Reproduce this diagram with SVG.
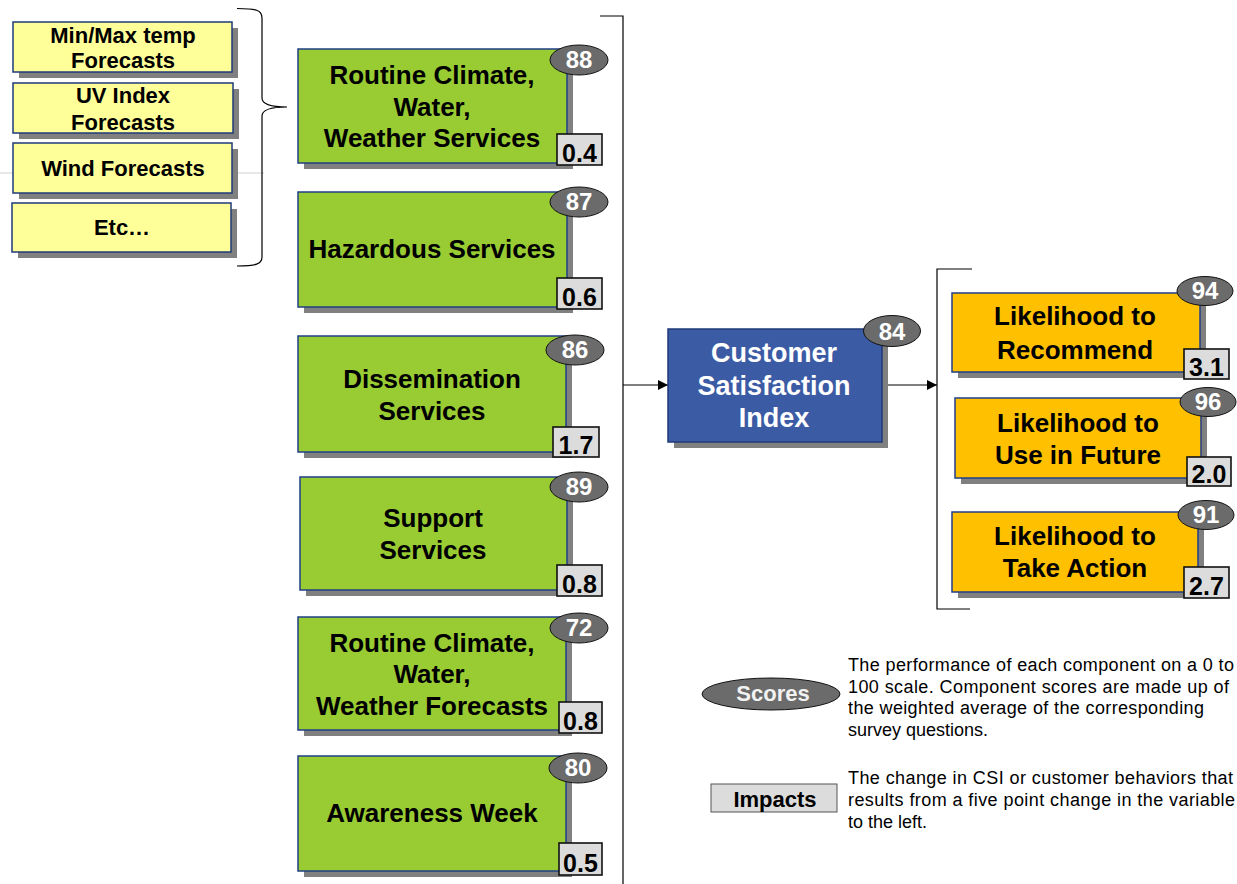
<svg xmlns="http://www.w3.org/2000/svg" width="1237" height="884" viewBox="0 0 1237 884">
<style>
text{font-family:"Liberation Sans",Arial,Helvetica,sans-serif;}
.shadow{fill:#808080;}
.yel{fill:#ffff99;stroke:#1f3a7a;stroke-width:1.5;}
.grn{fill:#99cc33;stroke:#203f86;stroke-width:1.5;}
.org{fill:#ffc000;stroke:#203f86;stroke-width:1.5;}
.blu{fill:#3c5ba5;stroke:#1f3a7a;stroke-width:1.5;}
.badge{fill:#6b6b6b;stroke:#111;stroke-width:1;}
.imp{fill:#dcdcdc;stroke:#111;stroke-width:1.6;}
.t22{font-size:22px;font-weight:bold;fill:#000;text-anchor:middle;}
.t26{font-size:26px;font-weight:bold;fill:#000;text-anchor:middle;}
.tw{font-size:27px;font-weight:bold;fill:#fff;text-anchor:middle;}
.bn{font-size:24px;font-weight:bold;fill:#fff;text-anchor:middle;}
.in{font-size:25px;font-weight:bold;fill:#000;text-anchor:middle;}
.desc{font-size:18px;fill:#000;}
.ln{fill:none;stroke:#000;stroke-width:1.2;}
</style>
<defs>
<marker id="arr" viewBox="0 0 10 10" refX="10" refY="5" markerWidth="10" markerHeight="10" markerUnits="userSpaceOnUse" orient="auto">
<path d="M0,0 L10,5 L0,10 Z" fill="#000"/>
</marker>
</defs>
<rect width="1237" height="884" fill="#fff"/>
<line x1="0" y1="173" x2="264" y2="173" stroke="#b0b0b0" stroke-width="0.6"/>

<g id="connectors">
<path class="ln" d="M237,8.5 C256,8.5 262,10 262,18 L262,98 C262,104 270,107 287,107 C270,107 262,110 262,116 L262,257 C262,264 256,266 237,266"/>
<path class="ln" d="M600,16 L623,16 L623,884"/>
<line class="ln" x1="623" y1="385" x2="668" y2="385" marker-end="url(#arr)"/>
<line class="ln" x1="887" y1="385" x2="937" y2="385" marker-end="url(#arr)"/>
<path class="ln" d="M972,269 L937,269 L937,609 L970,609"/>
</g>

<g id="minmax">
<rect class="shadow" x="19" y="28" width="219" height="50"/>
<rect class="yel" x="13" y="22" width="219" height="50"/>
<text class="t22" x="123" y="43">Min/Max temp</text>
<text class="t22" x="123" y="68">Forecasts</text>
</g>
<g id="uvindex">
<rect class="shadow" x="19" y="89" width="220" height="50"/>
<rect class="yel" x="13" y="83" width="220" height="50"/>
<text class="t22" x="123" y="103">UV Index</text>
<text class="t22" x="123" y="130">Forecasts</text>
</g>
<g id="wind">
<rect class="shadow" x="19" y="149" width="219" height="50"/>
<rect class="yel" x="13" y="143" width="219" height="50"/>
<text class="t22" x="123" y="176">Wind Forecasts</text>
</g>
<g id="etc">
<rect class="shadow" x="18" y="209" width="219" height="49"/>
<rect class="yel" x="12" y="203" width="219" height="49"/>
<text class="t22" x="122" y="235">Etc…</text>
</g>

<g id="routine-services">
<rect class="shadow" x="304" y="55" width="269" height="114"/>
<rect class="grn" x="298" y="49" width="269" height="114"/>
<text class="t26" x="432" y="84">Routine Climate,</text>
<text class="t26" x="432" y="116">Water,</text>
<text class="t26" x="432" y="147">Weather Services</text>
<ellipse class="badge" cx="579" cy="60" rx="29" ry="15"/>
<text class="bn" x="579" y="68">88</text>
<rect class="imp" x="557" y="134" width="45" height="31"/>
<text class="in" x="579.5" y="162">0.4</text>
</g>
<g id="hazardous">
<rect class="shadow" x="304" y="198" width="269" height="115"/>
<rect class="grn" x="298" y="192" width="269" height="115"/>
<text class="t26" x="432" y="258">Hazardous Services</text>
<ellipse class="badge" cx="579" cy="202" rx="29" ry="15"/>
<text class="bn" x="579" y="210">87</text>
<rect class="imp" x="557" y="278" width="45" height="31"/>
<text class="in" x="579.5" y="306">0.6</text>
</g>
<g id="dissemination">
<rect class="shadow" x="304" y="342" width="268" height="116"/>
<rect class="grn" x="298" y="336" width="268" height="116"/>
<text class="t26" x="432" y="388">Dissemination</text>
<text class="t26" x="432" y="420">Services</text>
<ellipse class="badge" cx="575" cy="350" rx="29" ry="15"/>
<text class="bn" x="575" y="358">86</text>
<rect class="imp" x="553" y="427" width="46" height="30"/>
<text class="in" x="576" y="454">1.7</text>
</g>
<g id="support">
<rect class="shadow" x="306" y="483" width="267" height="113"/>
<rect class="grn" x="300" y="477" width="267" height="113"/>
<text class="t26" x="433" y="527">Support</text>
<text class="t26" x="433" y="559">Services</text>
<ellipse class="badge" cx="579" cy="487" rx="29" ry="15"/>
<text class="bn" x="579" y="495">89</text>
<rect class="imp" x="557" y="565" width="45" height="31"/>
<text class="in" x="579.5" y="593">0.8</text>
</g>
<g id="routine-forecasts">
<rect class="shadow" x="304" y="623" width="268" height="113"/>
<rect class="grn" x="298" y="617" width="268" height="113"/>
<text class="t26" x="432" y="652">Routine Climate,</text>
<text class="t26" x="432" y="683">Water,</text>
<text class="t26" x="432" y="715">Weather Forecasts</text>
<ellipse class="badge" cx="579" cy="628" rx="29" ry="15"/>
<text class="bn" x="579" y="636">72</text>
<rect class="imp" x="559" y="702" width="43" height="31"/>
<text class="in" x="580.5" y="730">0.8</text>
</g>
<g id="awareness">
<rect class="shadow" x="304" y="762" width="268" height="115"/>
<rect class="grn" x="298" y="756" width="268" height="115"/>
<text class="t26" x="432" y="822">Awareness Week</text>
<ellipse class="badge" cx="578" cy="768" rx="29" ry="15"/>
<text class="bn" x="578" y="776">80</text>
<rect class="imp" x="559" y="843" width="43" height="32"/>
<text class="in" x="580.5" y="872">0.5</text>
</g>

<g id="csi">
<rect class="shadow" x="674" y="335" width="214" height="113"/>
<rect class="blu" x="668" y="329" width="214" height="113"/>
<text class="tw" x="774" y="362">Customer</text>
<text class="tw" x="774" y="395">Satisfaction</text>
<text class="tw" x="774" y="427">Index</text>
<ellipse class="badge" cx="892" cy="331" rx="28.5" ry="15.5"/>
<text class="bn" x="892" y="340">84</text>
</g>

<g id="recommend">
<rect class="shadow" x="958" y="299" width="248" height="79"/>
<rect class="org" x="952" y="293" width="248" height="79"/>
<text class="t26" x="1075" y="325">Likelihood to</text>
<text class="t26" x="1075" y="359">Recommend</text>
<ellipse class="badge" cx="1205" cy="291" rx="28" ry="14.5"/>
<text class="bn" x="1205" y="299">94</text>
<rect class="imp" x="1184" y="349" width="45" height="30"/>
<text class="in" x="1206.5" y="376">3.1</text>
</g>
<g id="future">
<rect class="shadow" x="961" y="404" width="246" height="80"/>
<rect class="org" x="955" y="398" width="246" height="80"/>
<text class="t26" x="1078" y="432">Likelihood to</text>
<text class="t26" x="1078" y="464">Use in Future</text>
<ellipse class="badge" cx="1208" cy="402" rx="28" ry="14.5"/>
<text class="bn" x="1208" y="410">96</text>
<rect class="imp" x="1187" y="457" width="44" height="29"/>
<text class="in" x="1209" y="483">2.0</text>
</g>
<g id="action">
<rect class="shadow" x="958" y="518" width="246" height="80"/>
<rect class="org" x="952" y="512" width="246" height="80"/>
<text class="t26" x="1075" y="545">Likelihood to</text>
<text class="t26" x="1075" y="577">Take Action</text>
<ellipse class="badge" cx="1206" cy="515" rx="28" ry="14.5"/>
<text class="bn" x="1206" y="523">91</text>
<rect class="imp" x="1184" y="567" width="45" height="31"/>
<text class="in" x="1206.5" y="595">2.7</text>
</g>

<g id="legend-scores">
<ellipse class="badge" cx="771" cy="694" rx="69" ry="16"/>
<text x="773" y="701" style="font-size:22px;font-weight:bold;fill:#f2f2f2;text-anchor:middle;">Scores</text>
<text class="desc" x="848" y="671" textLength="386" lengthAdjust="spacing">The performance of each component on a 0 to</text>
<text class="desc" x="848" y="693" textLength="381" lengthAdjust="spacing">100 scale. Component scores are made up of</text>
<text class="desc" x="848" y="714" textLength="356" lengthAdjust="spacing">the weighted average of the corresponding</text>
<text class="desc" x="848" y="736">survey questions.</text>
</g>
<g id="legend-impacts">
<rect x="711" y="784" width="126" height="28" fill="#dcdcdc" stroke="#555" stroke-width="1"/>
<text x="775" y="807" style="font-size:22px;font-weight:bold;fill:#000;text-anchor:middle;">Impacts</text>
<text class="desc" x="848" y="784" textLength="385" lengthAdjust="spacing">The change in CSI or customer behaviors that</text>
<text class="desc" x="848" y="806" textLength="387" lengthAdjust="spacing">results from a five point change in the variable</text>
<text class="desc" x="848" y="828">to the left.</text>
</g>
</svg>
